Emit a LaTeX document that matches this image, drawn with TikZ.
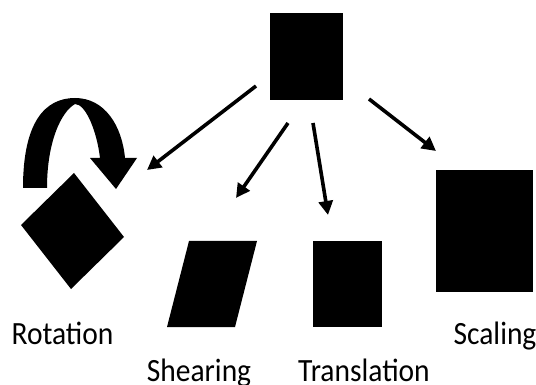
\documentclass[tikz,border=0pt]{standalone}
\usepackage{fontspec}
\setmainfont{Carlito}
\usetikzlibrary{arrows.meta}
\newcommand{\captext}[1]{\scalebox{1}[1.1]{#1}}
\begin{document}
\begin{tikzpicture}[x=1pt,y=-1pt,
  solid/.style={fill=black,draw=none},
  link/.style={line width=3.6pt,-{Triangle[length=14pt,width=14pt]}},
  caption/.style={anchor=base,inner sep=0pt,font=\fontsize{29.5}{34}\selectfont}]
\useasboundingbox[fill=white] (0,0) rectangle (536,385);

% original shape and its transformed copies
\node[solid,minimum width=73pt,minimum height=87pt,inner sep=0pt] (src) at (306.5,56.5) {};
\path[solid] (74,173) -- (124,237) -- (71,289) -- (21,225) -- cycle;
\node[inner sep=0pt] (rot) at (72.5,231) {};
\path[solid] (189,241) -- (257,241) -- (235,327) -- (167,327) -- cycle;
\node[inner sep=0pt] (shear) at (212,284) {};
\node[solid,minimum width=69pt,minimum height=86pt,inner sep=0pt] (trans) at (347.5,284) {};
\node[solid,minimum width=97pt,minimum height=122pt,inner sep=0pt] (scale) at (484.5,231) {};

% rotation symbol: thick curved arrow
\path[solid] (23,188) .. controls (23,122) and (45,98) .. (75,98)
  .. controls (105,98) and (122,126) .. (125,158)
  -- (137,158) -- (116,189) -- (90,158) -- (100,158)
  .. controls (97,132) and (86,104) .. (75,104)
  .. controls (61,112) and (47,142) .. (47,188) -- cycle;

% arrow end points
\coordinate (a1s) at (256,86);  \coordinate (a1e) at (147,170);
\coordinate (a2s) at (288,123); \coordinate (a2e) at (236,198);
\coordinate (a3s) at (313,123); \coordinate (a3e) at (328,215);
\coordinate (a4s) at (369,99);  \coordinate (a4e) at (436,151);
\draw[link] (a1s) -- (a1e);
\draw[link] (a2s) -- (a2e);
\draw[link] (a3s) -- (a3e);
\draw[link] (a4s) -- (a4e);

% captions
\node[caption] (lrot) at (62.5,344) {\captext{Rotation}};
\node[caption] (lshear) at (199,381) {\captext{Shearing}};
\node[caption] (ltrans) at (364,381) {\captext{Translation}};
\node[caption] (lscale) at (495,344) {\captext{Scaling}};
\end{tikzpicture}
\end{document}
